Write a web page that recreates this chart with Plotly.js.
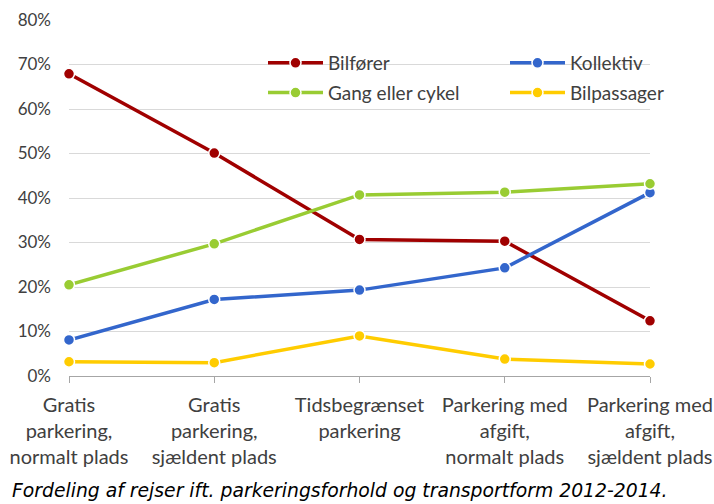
<!DOCTYPE html>
<html><head><meta charset="utf-8">
<script src="https://cdn.plot.ly/plotly-3.0.1.min.js"></script>
<style>html,body{margin:0;padding:0;background:#fff}#chart{width:714px;height:504px}</style>
</head><body><div id="chart"></div>
<script>
const categories = ["Gratis<br>parkering,<br>normalt plads","Gratis<br>parkering,<br>sjældent plads","Tidsbegrænset<br>parkering","Parkering med<br>afgift,<br>normalt plads","Parkering med<br>afgift,<br>sjældent plads"];
const bilforer = [0.679, 0.501, 0.307, 0.303, 0.124];
const kollektiv = [0.081, 0.172, 0.193, 0.243, 0.412];
const gang = [0.205, 0.297, 0.407, 0.413, 0.432];
const bilpassager = [0.032, 0.030, 0.090, 0.038, 0.027];
const yTicks = [0,0.1,0.2,0.3,0.4,0.5,0.6,0.7,0.8];
const yTickText = ["0%","10%","20%","30%","40%","50%","60%","70%","80%"];
const caption = "Fordeling af rejser ift. parkeringsforhold og transportform 2012-2014.";

const FONT = "Lato, 'Open Sans', sans-serif";
function tr(name, y, color, legend, group){
  return {type:'scatter', mode:'lines+markers', name:name, x:categories, y:y,
    line:{color:color, width:3.5}, marker:{color:color, size:11, line:{color:'#fff', width:1.5}},
    legend:legend, legendgroup:group, cliponaxis:false};
}
const data = [
  tr('Bilfører', bilforer, '#a00000', 'legend', 'a'),
  tr('Kollektiv', kollektiv, '#3366cc', 'legend2', 'b'),
  tr('Gang eller cykel', gang, '#99cc33', 'legend', 'c'),
  tr('Bilpassager', bilpassager, '#ffcc00', 'legend2', 'd')
];
const legendBase = {orientation:'v', xanchor:'left', yanchor:'top', bgcolor:'rgba(0,0,0,0)',
  font:{family:FONT, size:19, color:'#404040'}, itemwidth:55, tracegroupgap:2, traceorder:'grouped'};
const layout = {
  width:714, height:504, paper_bgcolor:'#fff', plot_bgcolor:'#fff',
  margin:{l:69, r:64, t:20, b:128},
  font:{family:FONT, size:17, color:'#404040'},
  showlegend:true,
  legend:Object.assign({x:(263-69)/581, y:(376-44)/356}, legendBase),
  legend2:Object.assign({x:(505-69)/581, y:(376-44)/356}, legendBase),
  xaxis:{type:'category', range:[0,4], showgrid:false, showline:true, linecolor:'#a6a6a6', linewidth:1,
    ticks:'outside', ticklen:6, tickcolor:'#a6a6a6', tickfont:{family:FONT, size:20, color:'#404040'},
    ticklabelstandoff:5, zeroline:false},
  yaxis:{range:[0,0.8], tickvals:yTicks, ticktext:yTickText, showgrid:true, gridcolor:'#d9d9d9', gridwidth:1,
    zeroline:false, showline:false, ticks:'', tickfont:{family:FONT, size:17, color:'#404040'}, ticklabelstandoff:17},
  annotations:[{text:'<i>'+caption+'</i>', xref:'paper', yref:'paper', x:(10-69)/581, y:-(490-376)/356,
    xanchor:'left', yanchor:'middle', showarrow:false, font:{family:"'DejaVu Sans', Verdana, sans-serif", size:18.8, color:'#000'}}]
};
Plotly.newPlot('chart', data, layout, {displayModeBar:false, staticPlot:true});
</script></body></html>
